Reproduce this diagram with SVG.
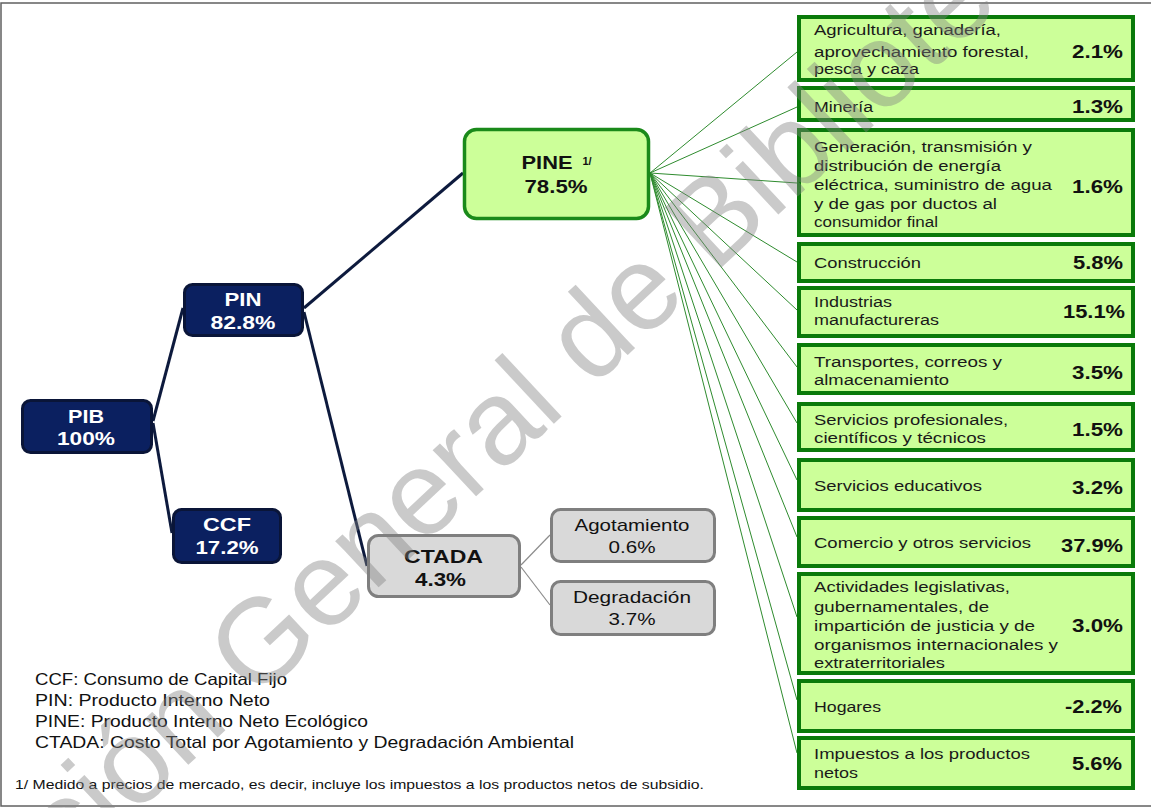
<svg xmlns="http://www.w3.org/2000/svg" width="1151" height="808" viewBox="0 0 1151 808">
<style>
.navy{fill:#0b2060;stroke:#0a1538;stroke-width:3}
.gray{fill:#d9d9d9;stroke:#7f7f7f;stroke-width:3}
.pine{fill:#ccff99;stroke:#1a8a1a;stroke-width:3.5}
.box{fill:#ccff99;stroke:#0a7a0a;stroke-width:4}
.wt{font-family:"Liberation Sans",Arial,sans-serif;font-weight:bold;font-size:18px;fill:#ffffff;text-anchor:middle}
.bt{font-family:"Liberation Sans",Arial,sans-serif;font-weight:bold;font-size:18px;fill:#111;text-anchor:middle}
.nt{font-family:"Liberation Sans",Arial,sans-serif;font-size:17px;fill:#111;text-anchor:middle}
.lb{font-family:"Liberation Sans",Arial,sans-serif;font-size:15.5px;fill:#1a1a1a}
.pc{font-family:"Liberation Sans",Arial,sans-serif;font-weight:bold;font-size:18px;fill:#111;text-anchor:end}
.lg{font-family:"Liberation Sans",Arial,sans-serif;font-size:16.5px;fill:#111}
.fn{font-family:"Liberation Sans",Arial,sans-serif;font-size:13px;fill:#111}
.nl{fill:none;stroke:#0d1a3d;stroke-width:3}
.gl{fill:none;stroke:#2e8b2e;stroke-width:1}
.cl{fill:none;stroke:#8c8c8c;stroke-width:1.2}
</style>
<rect x="0" y="0" width="1151" height="808" fill="#ffffff"/>
<rect x="1" y="3" width="1170" height="803" fill="none" stroke="#606060" stroke-width="1.5"/>

<g id="connectors">
<path class="nl" d="M153,421 L183,308"/>
<path class="nl" d="M153,423 L172,533"/>
<path class="nl" d="M304,308 L463,173"/>
<path class="nl" d="M304,312 L367,566"/>
<path class="cl" d="M521,565 L550,535"/>
<path class="cl" d="M521,567 L550,605"/>
<path class="gl" d="M650,173 L797,52"/>
<path class="gl" d="M650,173 L797,107"/>
<path class="gl" d="M650,173 L797,183"/>
<path class="gl" d="M650,173 L797,262"/>
<path class="gl" d="M650,173 L797,310"/>
<path class="gl" d="M650,173 L797,367"/>
<path class="gl" d="M650,173 L797,423"/>
<path class="gl" d="M650,173 L797,480"/>
<path class="gl" d="M650,173 L797,537"/>
<path class="gl" d="M650,173 L797,617"/>
<path class="gl" d="M650,173 L797,700"/>
<path class="gl" d="M650,173 L797,753"/>
</g>

<g id="pib">
<rect class="navy" x="22.5" y="400.5" width="129" height="52" rx="8"/>
<text class="wt" x="86" y="423" textLength="36" lengthAdjust="spacingAndGlyphs">PIB</text>
<text class="wt" x="86" y="445" textLength="58" lengthAdjust="spacingAndGlyphs">100%</text>
</g>
<g id="pin">
<rect class="navy" x="184.5" y="284.5" width="118" height="51" rx="8"/>
<text class="wt" x="243" y="306" textLength="37" lengthAdjust="spacingAndGlyphs">PIN</text>
<text class="wt" x="243" y="329" textLength="65" lengthAdjust="spacingAndGlyphs">82.8%</text>
</g>
<g id="ccf">
<rect class="navy" x="173.5" y="509.5" width="107" height="53" rx="8"/>
<text class="wt" x="227" y="531" textLength="48" lengthAdjust="spacingAndGlyphs">CCF</text>
<text class="wt" x="227" y="554" textLength="63" lengthAdjust="spacingAndGlyphs">17.2%</text>
</g>
<g id="pine">
<rect class="pine" x="464.5" y="129.5" width="184" height="89" rx="12"/>
<text class="bt" x="547" y="169" textLength="51" lengthAdjust="spacingAndGlyphs">PINE</text>
<text x="587" y="165" font-family="Liberation Sans,Arial,sans-serif" font-weight="bold" font-size="11" fill="#111" text-anchor="middle">1/</text>
<text class="bt" x="556" y="193" textLength="63" lengthAdjust="spacingAndGlyphs">78.5%</text>
</g>
<g id="ctada">
<rect class="gray" x="368.5" y="535.5" width="151" height="61" rx="10"/>
<text class="bt" x="443.5" y="563" textLength="79" lengthAdjust="spacingAndGlyphs">CTADA</text>
<text class="bt" x="440.5" y="586" textLength="51" lengthAdjust="spacingAndGlyphs">4.3%</text>
</g>
<g id="agotamiento">
<rect class="gray" x="551.5" y="509.5" width="163" height="52" rx="9"/>
<text class="nt" x="632" y="531" textLength="115" lengthAdjust="spacingAndGlyphs">Agotamiento</text>
<text class="nt" x="632" y="553" textLength="47" lengthAdjust="spacingAndGlyphs">0.6%</text>
</g>
<g id="degradacion">
<rect class="gray" x="551.5" y="581.5" width="163" height="53" rx="9"/>
<text class="nt" x="632" y="603" textLength="118" lengthAdjust="spacingAndGlyphs">Degradación</text>
<text class="nt" x="632" y="625" textLength="47" lengthAdjust="spacingAndGlyphs">3.7%</text>
</g>

<g id="agricultura">
<rect class="box" x="799" y="17" width="334" height="63"/>
<text class="lb" x="814" y="35" textLength="187" lengthAdjust="spacingAndGlyphs">Agricultura, ganadería,</text>
<text class="lb" x="814" y="57" textLength="215" lengthAdjust="spacingAndGlyphs">aprovechamiento  forestal,</text>
<text class="lb" x="814" y="74" textLength="105" lengthAdjust="spacingAndGlyphs">pesca y caza</text>
<text class="pc" x="1123" y="58" textLength="51" lengthAdjust="spacingAndGlyphs">2.1%</text>
</g>
<g id="mineria">
<rect class="box" x="799" y="88" width="334" height="32"/>
<text class="lb" x="814" y="112" textLength="59" lengthAdjust="spacingAndGlyphs">Minería</text>
<text class="pc" x="1123" y="113" textLength="51" lengthAdjust="spacingAndGlyphs">1.3%</text>
</g>
<g id="generacion">
<rect class="box" x="799" y="130" width="334" height="105"/>
<text class="lb" x="814" y="152" textLength="218" lengthAdjust="spacingAndGlyphs">Generación, transmisión y</text>
<text class="lb" x="814" y="171" textLength="187" lengthAdjust="spacingAndGlyphs">distribución de energía</text>
<text class="lb" x="814" y="190" textLength="238" lengthAdjust="spacingAndGlyphs">eléctrica, suministro de agua</text>
<text class="lb" x="814" y="209" textLength="183" lengthAdjust="spacingAndGlyphs">y de gas por ductos al</text>
<text class="lb" x="814" y="227" textLength="124" lengthAdjust="spacingAndGlyphs">consumidor final</text>
<text class="pc" x="1123" y="193" textLength="51" lengthAdjust="spacingAndGlyphs">1.6%</text>
</g>
<g id="construccion">
<rect class="box" x="799" y="244" width="334" height="37"/>
<text class="lb" x="814" y="268" textLength="107" lengthAdjust="spacingAndGlyphs">Construcción</text>
<text class="pc" x="1123" y="269" textLength="50" lengthAdjust="spacingAndGlyphs">5.8%</text>
</g>
<g id="industrias">
<rect class="box" x="799" y="288" width="334" height="48"/>
<text class="lb" x="814" y="307" textLength="78" lengthAdjust="spacingAndGlyphs">Industrias</text>
<text class="lb" x="814" y="325" textLength="125" lengthAdjust="spacingAndGlyphs">manufactureras</text>
<text class="pc" x="1125" y="318" textLength="62" lengthAdjust="spacingAndGlyphs">15.1%</text>
</g>
<g id="transportes">
<rect class="box" x="799" y="345" width="334" height="48"/>
<text class="lb" x="814" y="367" textLength="188" lengthAdjust="spacingAndGlyphs">Transportes, correos y</text>
<text class="lb" x="814" y="385" textLength="135" lengthAdjust="spacingAndGlyphs">almacenamiento</text>
<text class="pc" x="1123" y="379" textLength="51" lengthAdjust="spacingAndGlyphs">3.5%</text>
</g>
<g id="servicios-profesionales">
<rect class="box" x="799" y="404" width="334" height="46"/>
<text class="lb" x="814" y="425" textLength="194" lengthAdjust="spacingAndGlyphs">Servicios profesionales,</text>
<text class="lb" x="814" y="443" textLength="172" lengthAdjust="spacingAndGlyphs">científicos y técnicos</text>
<text class="pc" x="1123" y="436" textLength="51" lengthAdjust="spacingAndGlyphs">1.5%</text>
</g>
<g id="servicios-educativos">
<rect class="box" x="799" y="460" width="334" height="50"/>
<text class="lb" x="814" y="491" textLength="168" lengthAdjust="spacingAndGlyphs">Servicios  educativos</text>
<text class="pc" x="1123" y="494" textLength="51" lengthAdjust="spacingAndGlyphs">3.2%</text>
</g>
<g id="comercio">
<rect class="box" x="799" y="518" width="334" height="48"/>
<text class="lb" x="814" y="548" textLength="217" lengthAdjust="spacingAndGlyphs">Comercio y otros servicios</text>
<text class="pc" x="1123" y="552" textLength="62" lengthAdjust="spacingAndGlyphs">37.9%</text>
</g>
<g id="actividades">
<rect class="box" x="799" y="574" width="334" height="99"/>
<text class="lb" x="814" y="592" textLength="196" lengthAdjust="spacingAndGlyphs">Actividades legislativas,</text>
<text class="lb" x="814" y="612" textLength="175" lengthAdjust="spacingAndGlyphs">gubernamentales,  de</text>
<text class="lb" x="814" y="631" textLength="221" lengthAdjust="spacingAndGlyphs">impartición de justicia y de</text>
<text class="lb" x="814" y="650" textLength="244" lengthAdjust="spacingAndGlyphs">organismos internacionales y</text>
<text class="lb" x="814" y="668" textLength="131" lengthAdjust="spacingAndGlyphs">extraterritoriales</text>
<text class="pc" x="1123" y="632" textLength="51" lengthAdjust="spacingAndGlyphs">3.0%</text>
</g>
<g id="hogares">
<rect class="box" x="799" y="681" width="334" height="50"/>
<text class="lb" x="814" y="712" textLength="67" lengthAdjust="spacingAndGlyphs">Hogares</text>
<text class="pc" x="1122" y="713" textLength="57" lengthAdjust="spacingAndGlyphs">-2.2%</text>
</g>
<g id="impuestos">
<rect class="box" x="799" y="738" width="334" height="50"/>
<text class="lb" x="814" y="759" textLength="216" lengthAdjust="spacingAndGlyphs">Impuestos a los productos</text>
<text class="lb" x="814" y="778" textLength="44" lengthAdjust="spacingAndGlyphs">netos</text>
<text class="pc" x="1122" y="770" textLength="50" lengthAdjust="spacingAndGlyphs">5.6%</text>
</g>

<g id="legend">
<text class="lg" x="35" y="685" textLength="252" lengthAdjust="spacingAndGlyphs">CCF: Consumo de Capital Fijo</text>
<text class="lg" x="35" y="706" textLength="235" lengthAdjust="spacingAndGlyphs">PIN: Producto Interno Neto</text>
<text class="lg" x="35" y="727" textLength="333" lengthAdjust="spacingAndGlyphs">PINE: Producto Interno Neto Ecológico</text>
<text class="lg" x="35" y="748" textLength="539" lengthAdjust="spacingAndGlyphs">CTADA: Costo Total por Agotamiento y Degradación Ambiental</text>
<text class="fn" x="15" y="789" textLength="689" lengthAdjust="spacingAndGlyphs">1/ Medido a precios de mercado, es decir, incluye los impuestos a los productos netos de subsidio.</text>
</g>

<text x="70" y="875" transform="rotate(-43 70 875)" font-family="Liberation Sans,Arial,sans-serif" font-size="120" fill="#808080" fill-opacity="0.42">ción General de Biblioteca</text>
</svg>
